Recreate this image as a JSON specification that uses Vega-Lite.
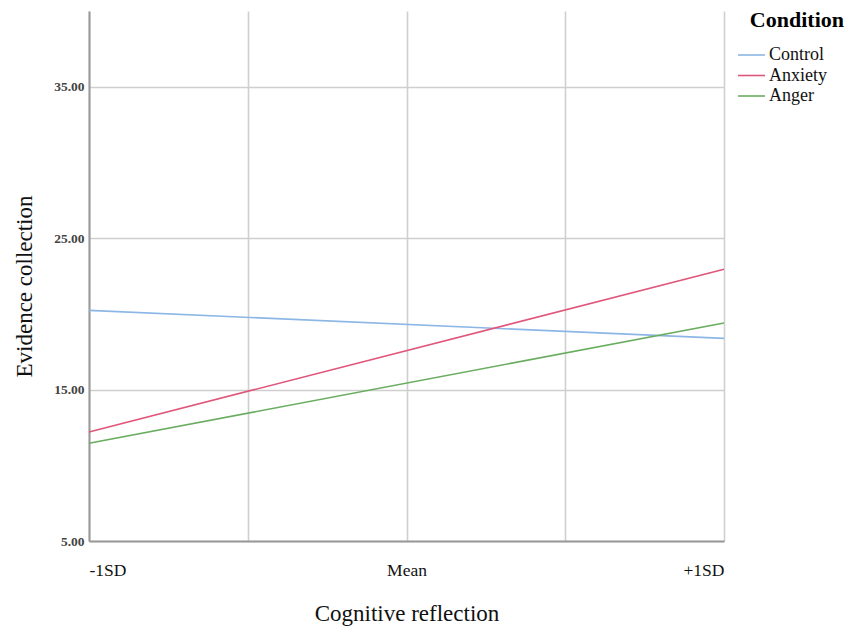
{
  "$schema": "https://vega.github.io/schema/vega-lite/v6.json",
  "width": 635,
  "height": 530,
  "autosize": {"type": "none"},
  "padding": {"left": 89, "top": 11, "right": 133, "bottom": 87},
  "background": "white",
  "title": {
    "text": "Condition",
    "anchor": "end",
    "frame": "group",
    "orient": "top",
    "offset": 0,
    "dx": 120,
    "dy": 38,
    "baseline": "alphabetic",
    "font": "Liberation Serif",
    "fontSize": 22,
    "fontWeight": "bold",
    "color": "black"
  },
  "config": {
    "view": {"stroke": null},
    "font": "Liberation Serif"
  },
  "data": {
    "values": [
      {"cr": -1, "ev": 20.23, "Condition": "Control"},
      {"cr": 1, "ev": 18.38, "Condition": "Control"},
      {"cr": -1, "ev": 12.2, "Condition": "Anxiety"},
      {"cr": 1, "ev": 22.94, "Condition": "Anxiety"},
      {"cr": -1, "ev": 11.45, "Condition": "Anger"},
      {"cr": 1, "ev": 19.4, "Condition": "Anger"}
    ]
  },
  "mark": {"type": "line", "strokeWidth": 1.6},
  "encoding": {
    "x": {
      "field": "cr",
      "type": "quantitative",
      "scale": {"domain": [-1, 1], "nice": false, "zero": false},
      "axis": {
        "values": [-1, -0.5, 0, 0.5, 1],
        "labelExpr": "datum.value == -1 ? '-1SD' : datum.value == 0 ? 'Mean' : datum.value == 1 ? '+1SD' : ''",
        "labelFlush": true,
        "labelFont": "Liberation Serif",
        "labelFontSize": 17.5,
        "labelColor": "#111",
        "labelPadding": 20,
        "ticks": false,
        "grid": true,
        "gridColor": "#cfcfcf",
        "gridWidth": 1.6,
        "domainColor": "#999",
        "domainWidth": 2,
        "title": "Cognitive reflection",
        "titleFont": "Liberation Serif",
        "titleFontSize": 23,
        "titleFontWeight": "normal",
        "titleColor": "#111",
        "titlePadding": 24
      }
    },
    "y": {
      "field": "ev",
      "type": "quantitative",
      "scale": {"domain": [5, 40], "nice": false, "zero": false},
      "axis": {
        "values": [5, 15, 25, 35],
        "format": ".2f",
        "labelFont": "Liberation Serif",
        "labelFontSize": 13.5,
        "labelFontWeight": "bold",
        "labelColor": "#444",
        "labelPadding": 5,
        "ticks": false,
        "grid": true,
        "gridColor": "#cfcfcf",
        "gridWidth": 1.6,
        "domainColor": "#999",
        "domainWidth": 2,
        "title": "Evidence collection",
        "titleFont": "Liberation Serif",
        "titleFontSize": 23,
        "titleFontWeight": "normal",
        "titleColor": "#111",
        "titleAngle": -90,
        "titleAlign": "center",
        "titleBaseline": "middle",
        "titleX": -65,
        "titleY": 275
      }
    },
    "color": {
      "field": "Condition",
      "type": "nominal",
      "scale": {
        "domain": ["Control", "Anxiety", "Anger"],
        "range": ["#8cb6e6", "#e0567a", "#6aad60"]
      },
      "legend": {
        "title": null,
        "orient": "none",
        "legendX": 653.5,
        "legendY": 35,
        "symbolType": "M-2.7,0H2.7",
        "symbolSize": 100,
        "symbolStrokeWidth": 1.6,
        "labelFont": "Liberation Serif",
        "labelFontSize": 18,
        "labelColor": "#111",
        "labelOffset": 8.5,
        "rowPadding": 2.5,
        "padding": 0
      }
    }
  }
}
